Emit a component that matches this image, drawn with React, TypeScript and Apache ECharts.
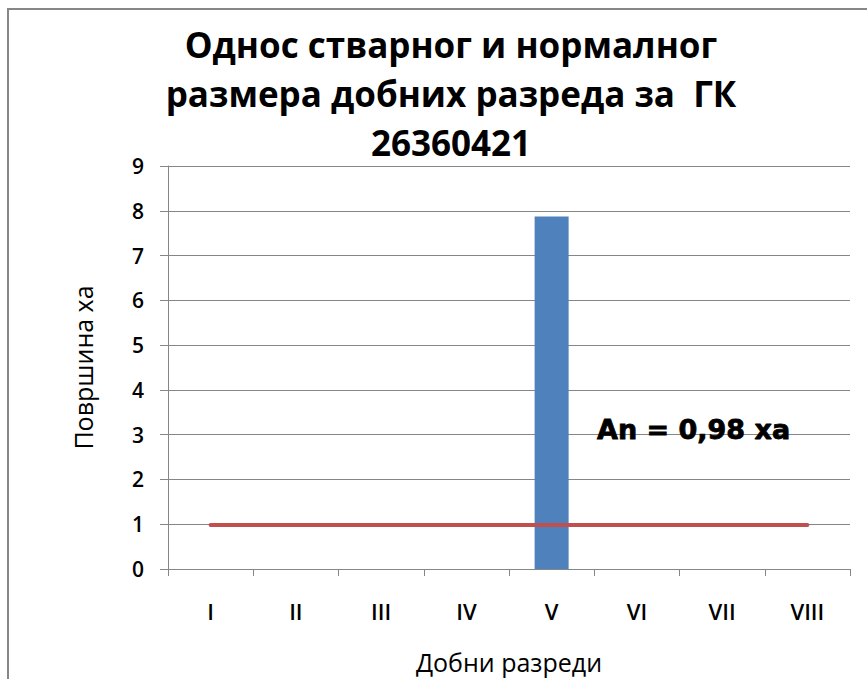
import React, { useEffect, useRef } from "react";
import * as echarts from "echarts";

const categories = ["I", "II", "III", "IV", "V", "VI", "VII", "VIII"];
const actualArea = [0, 0, 0, 0, 7.87, 0, 0, 0];
const normalArea = [0.98, 0.98, 0.98, 0.98, 0.98, 0.98, 0.98, 0.98];
const titleLines = ["Однос стварног и нормалног", "размера добних разреда за  ГК", "26360421"];
const annotation = "An = 0,98 ха";

export default function App() {
  const ref = useRef<HTMLDivElement>(null);
  useEffect(() => {
    if (!ref.current) return;
    const chart = echarts.init(ref.current, null, { renderer: "svg" });
    const font = "'Open Sans', 'Noto Sans', sans-serif";
    chart.setOption({
      animation: false,
      backgroundColor: "#ffffff",
      grid: { left: 168, right: 17, top: 166, bottom: 103, containLabel: false },
      graphic: [
        {
          type: "rect",
          shape: { x: 8, y: 9, width: 900, height: 700 },
          style: { fill: "none", stroke: "#878787", lineWidth: 2 },
          silent: true,
          z: -10,
        },
        {
          type: "text",
          x: 451,
          y: 20,
          style: {
            text: titleLines.join("\n"),
            fontFamily: font,
            fontWeight: "bold",
            fontSize: 35,
            lineHeight: 49,
            fill: "#000",
            textAlign: "center",
            textVerticalAlign: "top",
          },
        },
        {
          type: "text",
          x: 597,
          y: 429,
          z: 100,
          style: {
            text: annotation,
            fontFamily: "'DejaVu Sans', sans-serif",
            fontWeight: "bold",
            fontSize: 27,
            fill: "#000",
            stroke: "#000",
            lineWidth: 0.8,
            textAlign: "left",
            textVerticalAlign: "middle",
          },
        },
      ],
      xAxis: {
        type: "category",
        data: categories,
        boundaryGap: true,
        name: "Добни разреди",
        nameLocation: "middle",
        nameGap: 80,
        nameTextStyle: { fontFamily: font, fontSize: 25, color: "#000" },
        axisLine: { show: true, lineStyle: { color: "#868686", width: 1 } },
        axisTick: { show: true, length: 7, lineStyle: { color: "#868686" } },
        axisLabel: { margin: 31, fontFamily: font, fontSize: 22, fontWeight: 600, color: "#000" },
        splitLine: { show: false },
      },
      yAxis: {
        type: "value",
        min: 0,
        max: 9,
        interval: 1,
        name: "Површина ха",
        nameLocation: "middle",
        nameGap: 73,
        nameTextStyle: { fontFamily: font, fontSize: 25, color: "#000" },
        axisLine: { show: true, lineStyle: { color: "#868686", width: 1 } },
        axisTick: { show: true, length: 8, lineStyle: { color: "#868686" } },
        axisLabel: { margin: 24, fontFamily: font, fontSize: 21, fontWeight: 600, color: "#000" },
        splitLine: { show: true, lineStyle: { color: "#868686", width: 1 } },
      },
      series: [
        {
          type: "bar",
          data: actualArea,
          barWidth: 34,
          itemStyle: { color: "#4F81BD" },
          z: 2,
        },
        {
          type: "line",
          data: normalArea,
          symbol: "none",
          lineStyle: { color: "#C0504D", width: 4, cap: "round" },
          z: 3,
        },
      ],
    });
    return () => chart.dispose();
  }, []);
  return (
    <div
      ref={ref}
      style={{ position: "absolute", left: 0, top: 0, width: 867, height: 679 }}
    />
  );
}
